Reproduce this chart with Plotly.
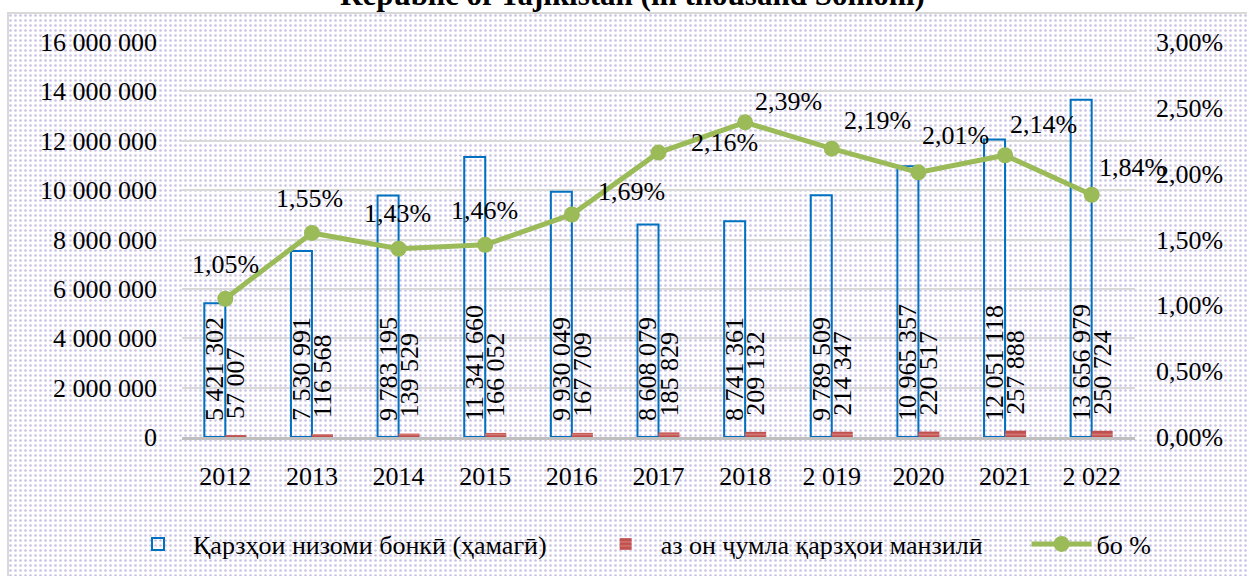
import base64
import plotly.graph_objects as go

# ---------------- data ----------------
years = ["2012", "2013", "2014", "2015", "2016", "2017", "2018", "2 019", "2020", "2021", "2 022"]
loans_total = [5421302, 7530991, 9783195, 11341660, 9930049, 8608079, 8741361,
               9789509, 10965357, 12051118, 13656979]
loans_target = [57007, 116568, 139529, 166052, 167709, 185829, 209132,
                214347, 220517, 257888, 250724]
share_pct = [1.05, 1.55, 1.43, 1.46, 1.69, 2.16, 2.39, 2.19, 2.01, 2.14, 1.84]

name_total = "Қарзҳои низоми бонкӣ (ҳамагӣ)"
name_target = "аз он ҷумла қарзҳои манзилӣ"
name_share = "бо %"
title_text = "Republic of Tajikistan (in thousand Somoni)"

# label offsets (pixels) for the percentage labels – styling only
pct_xshift = [0, -2, -1, -1, 60, 66, 43, 46, 37, 38, 41]
pct_yshift = [34, 34, 35, 34, 23, 10, 21, 28, 37, 31, 27]

FONT = "Liberation Serif"
FS = 26
PAD = "\u00a0" * 6  # extra spacing after legend entries

# ---------------- geometry helpers ----------------
W, H = 1247, 576
L, R, T, B = 182, 1135, 42, 437
pw, ph = R - L, B - T


def px2x(px):
    return (px - L) / pw


def px2y(py):
    return (B - py) / ph


# dotted background pattern as inline SVG
bw, bh = 1239, 563
svg = (
    f'<svg xmlns="http://www.w3.org/2000/svg" width="{bw}" height="{bh}">'
    '<defs><pattern id="p" width="5" height="5" patternUnits="userSpaceOnUse">'
    '<rect width="5" height="5" fill="#ffffff"/>'
    '<circle cx="2.5" cy="2.5" r="1.3" fill="#c9c1e6"/>'
    '</pattern></defs>'
    f'<rect width="{bw}" height="{bh}" fill="url(#p)"/></svg>'
)
img_src = "data:image/svg+xml;base64," + base64.b64encode(svg.encode()).decode()

fig = go.Figure()

fig.add_trace(go.Bar(
    x=years, y=loans_total, name=name_total + PAD,
    marker=dict(color="rgba(0,0,0,0)", line=dict(color="#0070c0", width=2)),
    texttemplate="\u00a0\u00a0%{y:,d}", textposition="inside", insidetextanchor="start",
    textangle=-90, constraintext="none",
    textfont=dict(family=FONT, size=FS, color="black"),
))
fig.add_trace(go.Bar(
    x=years, y=loans_target, name=name_target + PAD,
    marker=dict(color="#c0504d", line=dict(color="#c0504d", width=0),
                pattern=dict(shape="-", fgcolor="#e59c9a", size=5, solidity=0.35)),
    texttemplate="\u00a0\u00a0%{y:,d}", textposition="outside",
    textangle=-90, constraintext="none", cliponaxis=False,
    textfont=dict(family=FONT, size=FS, color="black"),
))
fig.add_trace(go.Scatter(
    x=years, y=share_pct, name=name_share, yaxis="y2", mode="lines+markers",
    line=dict(color="#9bbb59", width=5),
    marker=dict(color="#9bbb59", size=16),
))

annotations = []
for i, (v, dx, dy) in enumerate(zip(share_pct, pct_xshift, pct_yshift)):
    annotations.append(dict(
        x=i, y=v, xref="x", yref="y2", text=f"{v:.2f}".replace(".", ",") + "%",
        showarrow=False, xshift=dx, yshift=dy,
        font=dict(family=FONT, size=FS, color="black"),
    ))
annotations.append(dict(
    x=px2x(632), y=px2y(14), xref="paper", yref="paper", xanchor="center", yanchor="bottom",
    text="<b>" + title_text + "</b>", showarrow=False,
    font=dict(family=FONT, size=31, color="black"),
))

fig.update_layout(
    width=W, height=H,
    margin=dict(l=L, r=W - R, t=T, b=H - B, pad=0, autoexpand=False),
    paper_bgcolor="white", plot_bgcolor="rgba(0,0,0,0)",
    separators=", ",
    barmode="group", bargap=0.515, bargroupgap=0,
    font=dict(family=FONT, size=FS, color="black"),
    xaxis=dict(type="category", categoryorder="array", categoryarray=years,
               range=[-0.5, len(years) - 0.5], autorange=False,
               showline=True, linecolor="#bfbfbf", linewidth=3,
               showgrid=False, ticks="", ticklabelstandoff=14,
               tickfont=dict(family=FONT, size=FS, color="black")),
    yaxis=dict(range=[0, 16000000], dtick=2000000, tickformat=",d",
               showgrid=True, gridcolor="#d9d9d9", gridwidth=2, zeroline=False,
               ticks="", ticklabelstandoff=24,
               tickfont=dict(family=FONT, size=FS, color="black")),
    yaxis2=dict(range=[0, 3], dtick=0.5, tickformat=".2f", ticksuffix="%",
                overlaying="y", side="right", showgrid=False, zeroline=False,
                ticks="", ticklabelstandoff=20,
                tickfont=dict(family=FONT, size=FS, color="black")),
    legend=dict(orientation="h", x=px2x(123), xanchor="left", y=px2y(544), yanchor="middle",
                font=dict(family=FONT, size=FS, color="black"), itemwidth=60,
                bgcolor="rgba(0,0,0,0)", traceorder="normal"),
    annotations=annotations,
    images=[dict(source=img_src, xref="paper", yref="paper",
                 x=px2x(8), y=px2y(13), sizex=(W - 8) / pw, sizey=(H - 13) / ph,
                 xanchor="left", yanchor="top", sizing="stretch", layer="below")],
    shapes=[dict(type="rect", xref="paper", yref="paper",
                 x0=px2x(8), x1=px2x(W + 5), y0=px2y(H + 5), y1=px2y(13),
                 line=dict(color="#d9d9d9", width=2), fillcolor="rgba(0,0,0,0)",
                 layer="below")],
    showlegend=True,
)

fig.write_html("out.html", config={"displayModeBar": False},
               post_script="document.body.style.margin='0px';")
